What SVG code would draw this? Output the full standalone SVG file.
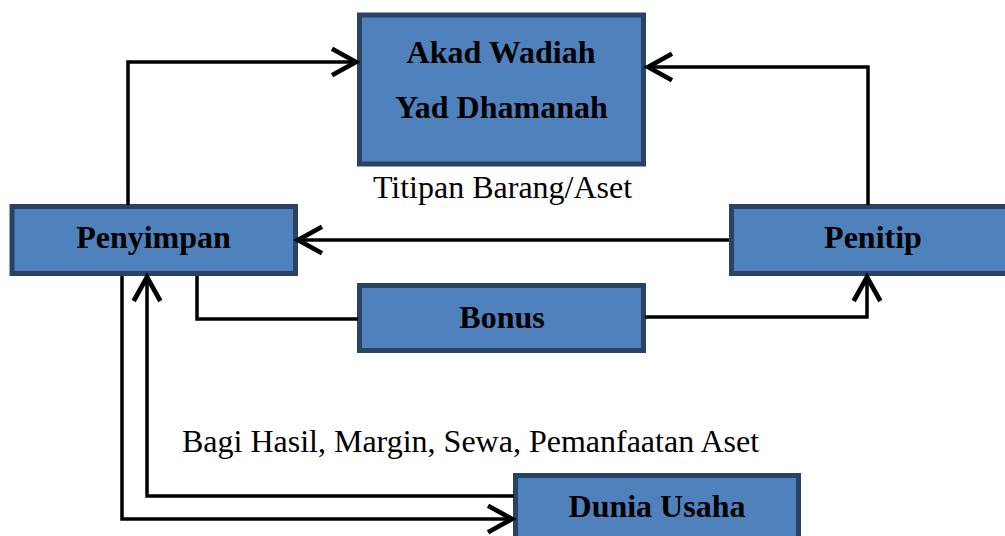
<svg xmlns="http://www.w3.org/2000/svg" width="1005" height="536" viewBox="0 0 1005 536">
<style>
.box{fill:#4f81bd;stroke:#2a4365;stroke-width:5}
.lbl{font-weight:bold;font-size:32px;fill:#000;text-anchor:middle}
.txt{font-size:32px;fill:#000;text-anchor:middle}
.con{fill:none;stroke:#000;stroke-width:3.5;stroke-linejoin:miter}
</style>
<defs>
<marker id="arr" markerUnits="userSpaceOnUse" markerWidth="40" markerHeight="40" refX="0" refY="0" orient="auto" viewBox="-25 -15 30 30" overflow="visible">
<path d="M-18,-10 L0,0 L-18,10" fill="none" stroke="#000" stroke-width="3.5" stroke-linejoin="miter"/>
</marker>
</defs>
<rect width="1005" height="536" fill="#fff"/>
<g font-family="Liberation Serif, serif">
<g id="akad">
<rect class="box" x="359.5" y="15" width="284" height="149"/>
<text class="lbl" x="501" y="63">Akad Wadiah</text>
<text class="lbl" x="501.5" y="118">Yad Dhamanah</text>
</g>
<g id="penyimpan">
<rect class="box" x="12" y="206.5" width="283.5" height="67"/>
<text class="lbl" x="153.5" y="248">Penyimpan</text>
</g>
<g id="penitip">
<rect class="box" x="731.5" y="206.5" width="290" height="67"/>
<text class="lbl" x="873" y="248">Penitip</text>
</g>
<g id="bonus">
<rect class="box" x="359.5" y="285.5" width="284" height="65"/>
<text class="lbl" x="502" y="328">Bonus</text>
</g>
<g id="dunia">
<rect class="box" x="515.5" y="475.5" width="283" height="80"/>
<text class="lbl" x="657" y="517">Dunia Usaha</text>
</g>
<g id="labels">
<text class="txt" x="502.5" y="198">Titipan Barang/Aset</text>
<text class="txt" x="470.5" y="452">Bagi Hasil, Margin, Sewa, Pemanfaatan Aset</text>
</g>
</g>
<g id="connectors">
<path class="con" d="M128,205 V62 H356" marker-end="url(#arr)"/>
<path class="con" d="M868,205 V67 H648" marker-end="url(#arr)"/>
<path class="con" d="M729,240 H298" marker-end="url(#arr)"/>
<path class="con" d="M197,276 V319 H358"/>
<path class="con" d="M645,317 H867 V277" marker-end="url(#arr)"/>
<path class="con" d="M514,496 H147 V277" marker-end="url(#arr)"/>
<path class="con" d="M122,276 V519 H512" marker-end="url(#arr)"/>
</g>
</svg>
